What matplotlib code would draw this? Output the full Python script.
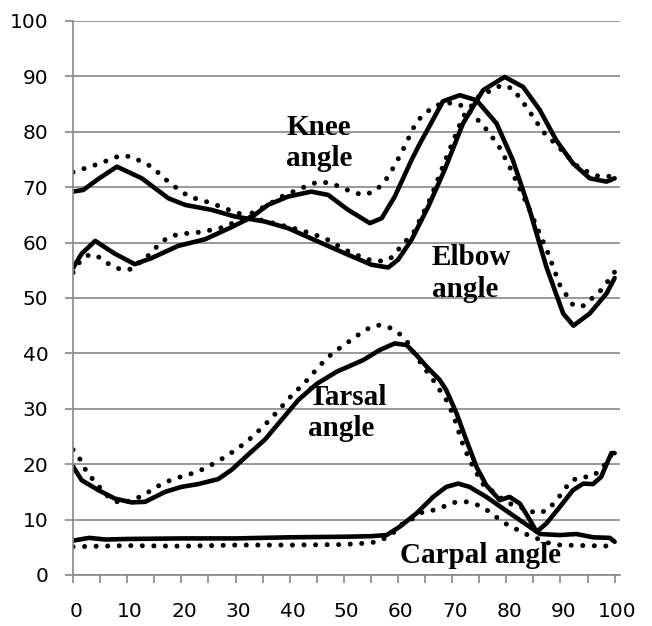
import matplotlib.pyplot as plt
import matplotlib.transforms as mtransforms

# elbow angle (curve starting near 69)
elbow_x = [0, 1.9, 4.7, 8.1, 12.7, 17.6, 20.7, 25.6, 29.9, 35.4, 39.7, 45.9, 50.8, 55.1, 58.2, 60, 62.5,
           65.6, 68.6, 72, 75.7, 79.7, 83.1, 86.2, 89.2, 92.3, 95.4, 98.5, 100]
elbow_y = [69.2, 69.5, 71.5, 73.7, 71.6, 68, 66.8, 65.9, 64.7, 63.8, 62.6, 59.9, 57.8, 56, 55.5, 56.9, 60.5,
           66.5, 73.1, 81.5, 87.5, 89.9, 88.1, 83.9, 78.5, 74.3, 71.6, 71, 71.6]
elbow_dot_x = [0, 4.7, 8.7, 10.8, 14.5, 17.9, 21.4, 25.6, 29.6, 33, 37, 42.2, 46.5, 50.2, 54.2, 56.3, 58.5,
               60.3, 63, 66, 69, 72, 75, 77.3, 79.1, 81.2, 83.7, 86.8, 90.5, 93.5, 97.2, 100]
elbow_dot_y = [72.7, 74.2, 75.7, 75.5, 73.7, 70.7, 68.3, 67.1, 65.6, 64.5, 63.5, 62.2, 60.8, 58.7, 57, 56.6, 57,
               59, 62, 68, 75.5, 82.7, 86.5, 87.5, 88.4, 87.8, 84.5, 80, 76.4, 73.4, 71.9, 72]

# knee angle (curve starting near 55)
knee_x = [0, 1.6, 4.1, 7.7, 11.4, 14.5, 19.4, 24.4, 29.3, 33, 36, 39.7, 44, 47.1, 50.8, 54.8, 57, 59.4, 62.5,
          64, 65.8, 68.3, 71.4, 74.5, 78.2, 81.2, 84.3, 87.4, 90.5, 92.4, 95.4, 98.5, 100]
knee_y = [55.4, 58, 60.3, 58, 56.1, 57.2, 59.4, 60.6, 62.8, 64.6, 66.8, 68.3, 69.2, 68.6, 65.9, 63.5, 64.4, 68.3,
          74.9, 77.8, 81, 85.5, 86.6, 85.7, 81.5, 74.9, 65.9, 55.6, 47.2, 45, 47.2, 50.8, 53.6]
knee_dot_x = [0, 1.3, 3.1, 5, 6.8, 8.9, 10.8, 14.2, 15.6, 17.3, 19.4, 23.7, 28, 32, 36, 38.5, 41.6, 45.3, 47.7,
              51.6, 53.6, 55.6, 57.3, 58.5, 60.6, 63.4, 65, 66.8, 69, 71.1, 72.9, 75.7, 78.5, 80.6, 84.3, 87.7,
              89.9, 92.4, 94.3, 96, 97.7, 100]
knee_dot_y = [54.6, 56.6, 57.9, 57.3, 56, 55.1, 55.2, 57.9, 59.4, 60.8, 61.5, 61.9, 62.8, 64.8, 66.8, 68.3, 69.6,
              71, 70.7, 69.1, 68.6, 69.2, 70.7, 72.4, 76.1, 81.8, 83.3, 84.7, 85.2, 85.1, 83.9, 81.2, 77.6, 73.7,
              65.9, 58.1, 52.3, 48.6, 48.6, 50.1, 51.6, 54.7]

# tarsal angle
tarsal_x = [0, 1.6, 4.7, 7.7, 10.8, 13.3, 17, 20, 23.1, 26.8, 29.3, 32.3, 35.4, 38.5, 41.6, 45, 48.7, 53.6, 56.6,
            59.4, 61.6, 63.4, 65.3, 67.7, 68.9, 70.8, 72.6, 74.5, 76.3, 78.8, 80.6, 82.5, 84, 85.6, 87.4, 89.9,
            92.3, 94.2, 96, 97.5, 99.4, 100]
tarsal_y = [19.6, 17.1, 15.3, 13.8, 13.1, 13.2, 15, 15.9, 16.4, 17.3, 19, 21.7, 24.4, 28, 31.6, 34.5, 36.7, 38.8,
            40.6, 41.8, 41.5, 39.7, 37.6, 35.2, 33.4, 29.2, 24.4, 19.5, 16.2, 13.5, 14.1, 12.9, 10.5, 7.8, 9.3,
            12.3, 15.3, 16.5, 16.4, 17.7, 22, 22]
tarsal_dot_x = [0, 1.5, 2.5, 3.9, 5.3, 6.8, 8.9, 12.9, 14.6, 16.5, 18.5, 20.5, 22.6, 24.7, 26.5, 28.4, 30.2, 32,
                33.6, 35.1, 36.7, 38.2, 39.6, 41.1, 42.7, 44.3, 46.8, 48.7, 50.5, 52.3, 54.3, 56.3, 58.2, 60.2,
                61.7, 63.4, 64.9, 66.5, 67.7, 68.9, 70.2, 71.1, 72, 73.2, 74.5, 76, 78.2, 79.4, 81.5, 83.4, 85.6,
                87.7, 89.2, 90.5, 91.7, 93.5, 95.7, 97.5, 99.4, 100]
tarsal_dot_y = [22.6, 20.6, 18.6, 17, 15.4, 13.8, 12.9, 14.3, 15.4, 16.5, 17.3, 17.9, 18.5, 19.4, 20.4, 21.5,
                22.7, 24, 25.4, 26.8, 28.4, 30, 31.6, 33.1, 34.6, 36.4, 39.1, 40.6, 41.8, 43.1, 44.4, 45.1, 44.8,
                43.6, 42.1, 39.4, 37.3, 35.2, 33.4, 31.6, 28.9, 26.2, 23.5, 20.8, 18.4, 15.9, 14.7, 13.5, 12.5,
                12, 11.1, 11.7, 13.5, 15, 16.8, 17.7, 17.7, 19, 21.7, 22]

# carpal angle
carpal_x = [0, 3, 6, 10, 20, 30, 40, 50, 55, 57.9, 60.3, 63.4, 66.5, 68.9, 71.1, 73.2, 76.3, 79.4, 82.5, 85.2,
            86.2, 89.9, 92.9, 96, 99.1, 100]
carpal_y = [6.2, 6.7, 6.4, 6.5, 6.6, 6.6, 6.8, 6.9, 7, 7.2, 8.7, 11.1, 14.1, 15.9, 16.5, 15.9, 14.1, 12, 9.9,
            8.1, 7.4, 7.2, 7.4, 6.8, 6.7, 6]
carpal_dot_x = [0, 10, 20, 30, 40, 50, 55, 57, 59.1, 60.9, 62.8, 64.6, 66.5, 68.3, 70.5, 72.6, 74.8, 76.6, 78.5,
                80.3, 82.2, 84, 86.2, 88, 90, 95, 100]
carpal_dot_y = [5.1, 5.3, 5.2, 5.4, 5.4, 5.5, 5.8, 6.3, 7.6, 9.3, 10.2, 11.4, 11.7, 12.3, 13.1, 13.2, 12.6, 11.6,
                10.2, 9, 8.1, 7.2, 6.4, 5.7, 5.4, 5.3, 5.2]

fig = plt.figure(figsize=(6.52, 6.26), dpi=100)
ax = fig.add_axes([0.112, 0.0815, 0.839, 0.885])

solid = dict(color='black', linewidth=3.3, solid_capstyle='round', solid_joinstyle='round')
dotted = dict(color='black', linewidth=3.6, linestyle=(0, (0.01, 2.3)), dash_capstyle='round')

for xs, ys in [(elbow_x, elbow_y), (knee_x, knee_y), (tarsal_x, tarsal_y), (carpal_x, carpal_y)]:
    ax.plot(xs, ys, **solid)
for xs, ys in [(elbow_dot_x, elbow_dot_y), (knee_dot_x, knee_dot_y),
               (tarsal_dot_x, tarsal_dot_y), (carpal_dot_x, carpal_dot_y)]:
    ax.plot(xs, ys, **dotted)

lab = dict(fontfamily='Liberation Serif', fontweight='bold', fontsize=21, va='baseline')
ax.text(45.4, 79.4, 'Knee', ha='center', **lab)
ax.text(45.4, 73.8, 'angle', ha='center', **lab)
ax.text(66.2, 56.0, 'Elbow', ha='left', **lab)
ax.text(66.2, 50.2, 'angle', ha='left', **lab)
ax.text(43.4, 30.7, 'Tarsal', ha='left', **lab)
ax.text(43.4, 25.0, 'angle', ha='left', **lab)
ax.text(60.3, 2.1, 'Carpal angle', ha='left', **lab)

ax.set_xlim(0, 101)
ax.set_ylim(0, 100)
ax.set_xticks(range(0, 101, 10))
ax.set_xticks(range(5, 101, 10), minor=True)
ax.set_yticks(range(0, 101, 10))
ax.yaxis.grid(True, color='#888888', linewidth=1.2)
ax.set_axisbelow(True)
for s in ['top', 'right']:
    ax.spines[s].set_visible(False)
for s in ['left', 'bottom']:
    ax.spines[s].set_color('#888888')
    ax.spines[s].set_linewidth(1.2)
ax.tick_params(axis='both', which='both', length=5.8, width=1.2, color='#888888', labelsize=14.5)
ax.tick_params(axis='y', pad=12)
ax.tick_params(axis='x', pad=13.5)

# x labels sit a little right of their ticks in the original
shift = mtransforms.ScaledTranslation(2 / 72, 0, fig.dpi_scale_trans)
for t in ax.get_xticklabels():
    t.set_transform(t.get_transform() + shift)

plt.savefig('out.png', dpi=100)
